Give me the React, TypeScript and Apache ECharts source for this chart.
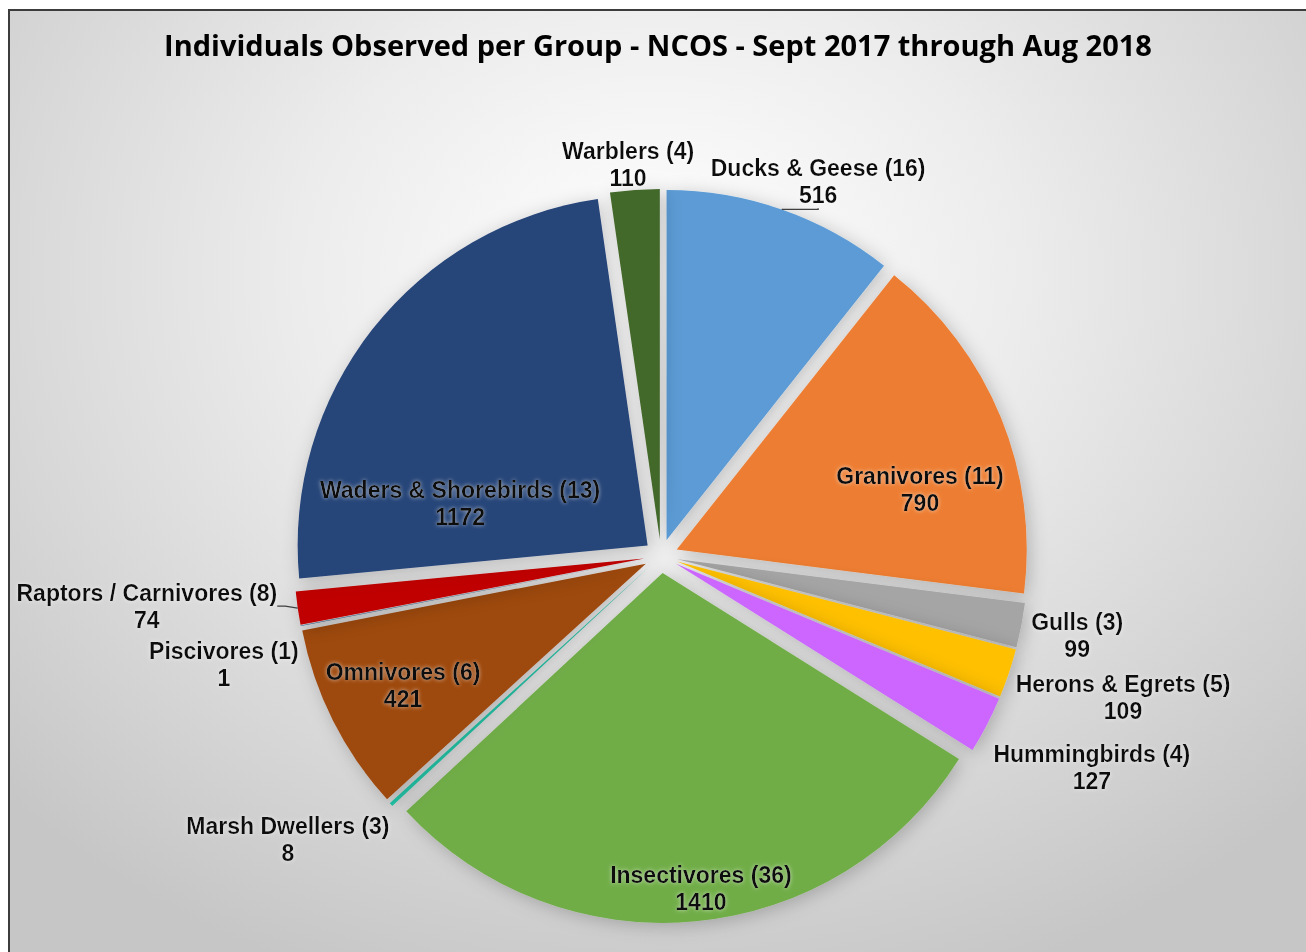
import React, { useEffect, useRef } from "react";
import * as echarts from "echarts";

const categories = [
  "Ducks & Geese",
  "Granivores",
  "Gulls",
  "Herons & Egrets",
  "Hummingbirds",
  "Insectivores",
  "Marsh Dwellers",
  "Omnivores",
  "Piscivores",
  "Raptors / Carnivores",
  "Waders & Shorebirds",
  "Warblers",
];
const speciesCounts = [16, 11, 3, 5, 4, 36, 3, 6, 1, 8, 13, 4];
const individuals = [516, 790, 99, 109, 127, 1410, 8, 421, 1, 74, 1172, 110];
const sliceColors = [
  "#5B9BD5",
  "#ED7D31",
  "#A5A5A5",
  "#FFC000",
  "#CC66FF",
  "#70AD47",
  "#22C3A6",
  "#9E480E",
  "#255E91",
  "#C00000",
  "#264478",
  "#43682B",
];
const leaderLineLabels = ["Ducks & Geese", "Raptors / Carnivores"];

// label centre placement, as fractions of the pie radius from the pie centre
const labelPlacement: [number, number][] = [
  [0.449, -1.071],
  [0.74, -0.189],
  [1.189, 0.226],
  [1.32, 0.403],
  [1.231, 0.603],
  [0.114, 0.949],
  [-1.066, 0.811],
  [-0.737, 0.371],
  [-1.249, 0.311],
  [-1.469, 0.143],
  [-0.574, -0.151],
  [-0.094, -1.12],
];

const TITLE = "Individuals Observed per Group - NCOS - Sept 2017 through Aug 2018";

export default function App() {
  const ref = useRef<HTMLDivElement>(null);
  useEffect(() => {
    if (!ref.current) return;
    const chart = echarts.init(ref.current, null, { renderer: "svg" });
    const CX = 651;
    const CY = 545;
    const R = 350;
    const OFFSET = 17;
    chart.setOption({
      animation: false,
      backgroundColor: "transparent",
      title: {
        text: TITLE,
        left: "center",
        top: 14,
        textStyle: {
          fontFamily: "Open Sans",
          fontWeight: "bold",
          fontSize: 29,
          color: "#000000",
        },
      },
      series: [
        {
          type: "pie",
          center: [CX, CY],
          radius: R,
          startAngle: 90,
          clockwise: true,
          selectedMode: "multiple",
          selectedOffset: OFFSET,
          avoidLabelOverlap: false,
          emphasis: { disabled: true },
          silent: true,
          itemStyle: {
            shadowBlur: 18,
            shadowColor: "rgba(0,0,0,0.22)",
            shadowOffsetX: 3,
            shadowOffsetY: 3,
          },
          label: { show: false },
          labelLine: { show: false },
          data: categories.map((name, i) => ({
            name,
            value: individuals[i],
            selected: true,
            itemStyle: { color: sliceColors[i] },
          })),
        },
        {
          // carries the labels only (transparent sectors, not exploded)
          type: "pie",
          center: [CX, CY],
          radius: R + OFFSET,
          startAngle: 90,
          clockwise: true,
          silent: true,
          avoidLabelOverlap: false,
          emphasis: { disabled: true },
          z: 3,
          itemStyle: { color: "rgba(0,0,0,0)" },
          label: {
            show: true,
            position: "outside",
            formatter: (p: any) =>
              `${p.name} (${speciesCounts[p.dataIndex]})\n${p.value}`,
            fontFamily: "Liberation Sans",
            fontWeight: "bold",
            fontSize: 23,
            lineHeight: 27,
            color: "#0d0d0d",
            align: "center",
            textShadowColor: "rgba(255,255,255,0.6)",
            textShadowBlur: 4,
          },
          labelLine: {
            length: 8,
            length2: 8,
            lineStyle: { color: "#404040", width: 1.3 },
          },
          labelLayout: (p: any) => {
            const [fx, fy] = labelPlacement[p.dataIndex];
            return {
              x: CX + fx * R,
              y: CY + fy * R,
              align: "center",
              verticalAlign: "middle",
            };
          },
          data: categories.map((name, i) => ({
            name,
            value: individuals[i],
            labelLine: { show: leaderLineLabels.includes(name) },
          })),
        },
      ],
    });
    return () => chart.dispose();
  }, []);
  return (
    <div
      style={{
        position: "fixed",
        left: 8,
        top: 9,
        right: 0,
        bottom: 0,
        boxSizing: "border-box",
        borderTop: "2px solid #3c3c3c",
        borderLeft: "2px solid #3c3c3c",
        background:
          "radial-gradient(ellipse 70% 80% at 50% 28%, #ffffff 0%, #ececec 40%, #c6c6c6 100%)",
      }}
    >
      <div ref={ref} style={{ width: "100%", height: "100%" }} />
    </div>
  );
}
